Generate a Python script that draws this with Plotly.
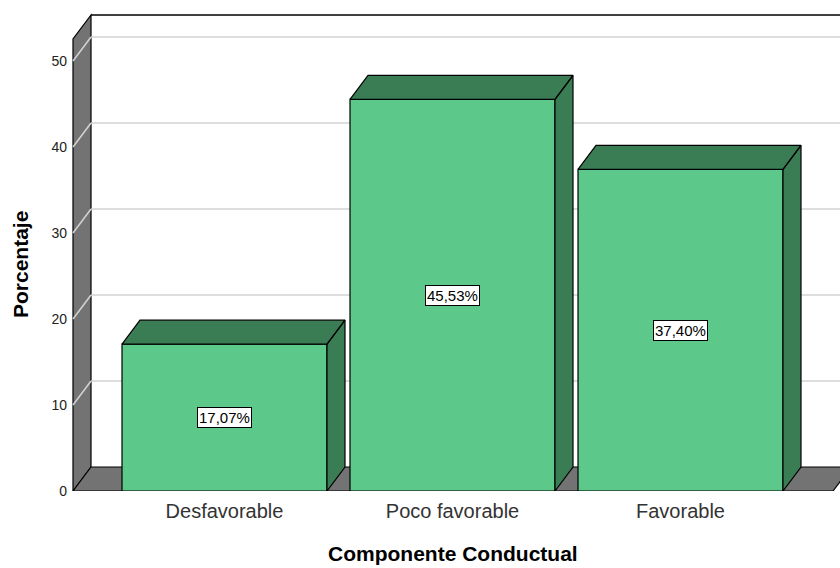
import plotly.graph_objects as go

# ---- data ----
categories = ["Desfavorable", "Poco favorable", "Favorable"]
porcentajes = [17.07, 45.53, 37.40]
y_ticks = [0, 10, 20, 30, 40, 50]
x_title = "Componente Conductual"
y_title = "Porcentaje"

# ---- styling / geometry ----
FONT = "Liberation Sans, Arial, sans-serif"
FRONT = "#5cc98b"
DARK = "#3a7d55"
WALL = "#737373"
GRID = "#d2d2d2"

W, H = 840, 568
ML, MR, MT, MB = 68, 0, 10, 77
PX = 228.0          # px per category unit
PY = 8.6            # px per percent unit
plot_w = W - ML - MR
plot_h = H - MT - MB

x_lo = -(224.5 - ML) / PX
x_hi = x_lo + plot_w / PX
y_hi = plot_h / PY

DX = 18 / PX
DY = 24 / PY
BAR_W = 205 / PX
x_wall = x_lo + 5 / PX
x_floor_end = x_wall + 760 / PX
y_wall_top = (plot_h - 5) / PY

shapes = []
# left wall
shapes.append(dict(type="path", xref="x", yref="y", layer="below",
                   path=f"M {x_wall},0 L {x_wall+DX},{DY} L {x_wall+DX},{y_wall_top} L {x_wall},{y_wall_top-DY} Z",
                   fillcolor=WALL, line=dict(color="black", width=1.2)))
# floor
shapes.append(dict(type="path", xref="x", yref="y", layer="below",
                   path=f"M {x_wall},0 L {x_wall+DX},{DY} L {x_floor_end+DX},{DY} L {x_floor_end},0 Z",
                   fillcolor=WALL, line=dict(color="black", width=1.2)))
# gridlines
for t in y_ticks[1:]:
    shapes.append(dict(type="line", xref="x", yref="y", layer="below",
                       x0=x_wall, y0=t, x1=x_wall + DX, y1=t + DY,
                       line=dict(color=GRID, width=1.5)))
    shapes.append(dict(type="line", xref="x", yref="y", layer="below",
                       x0=x_wall + DX, y0=t + DY, x1=x_hi, y1=t + DY,
                       line=dict(color=GRID, width=1.5)))
# back wall top edge
shapes.append(dict(type="line", xref="x", yref="y", layer="below",
                   x0=x_wall + DX, y0=y_wall_top, x1=x_hi, y1=y_wall_top,
                   line=dict(color="black", width=1.5)))

fig = go.Figure()

xs = list(range(len(categories)))
fig.add_trace(go.Bar(x=xs, y=porcentajes, width=BAR_W,
                     marker=dict(color=FRONT, line=dict(color="black", width=1.2)),
                     hoverinfo="skip"))

# 3D top and side faces
px_, py_ = [], []
for i, v in enumerate(porcentajes):
    xl, xr = i - BAR_W / 2, i + BAR_W / 2
    px_ += [xl, xl + DX, xr + DX, xr, xl, None]
    py_ += [v, v + DY, v + DY, v, v, None]
    px_ += [xr, xr + DX, xr + DX, xr, xr, None]
    py_ += [0, DY, v + DY, v, 0, None]
fig.add_trace(go.Scatter(x=px_, y=py_, mode="lines", fill="toself",
                         fillcolor=DARK, line=dict(color="black", width=1.2),
                         hoverinfo="skip"))

annotations = []
for i, v in enumerate(porcentajes):
    annotations.append(dict(x=i, y=v / 2, xref="x", yref="y", showarrow=False,
                            text=f"{v:.2f}%".replace(".", ","),
                            font=dict(family=FONT, size=15, color="black"),
                            bgcolor="white", bordercolor="black", borderwidth=1, borderpad=1))
annotations.append(dict(x=1, y=0, xref="x", yref="paper", yshift=-62, showarrow=False,
                        text=f"<b>{x_title}</b>", font=dict(family=FONT, size=21, color="black"),
                        yanchor="middle"))
annotations.append(dict(x=0, y=(plot_h - (265 - MT)) / plot_h, xref="paper", yref="paper",
                        xshift=-(ML - 20), showarrow=False, textangle=-90,
                        text=f"<b>{y_title}</b>", font=dict(family=FONT, size=21, color="black"),
                        xanchor="center", yanchor="middle"))

fig.update_layout(
    width=W, height=H,
    margin=dict(l=ML, r=MR, t=MT, b=MB),
    paper_bgcolor="white", plot_bgcolor="white",
    showlegend=False,
    shapes=shapes, annotations=annotations,
    xaxis=dict(range=[x_lo, x_hi], tickvals=xs, ticktext=categories,
               showgrid=False, zeroline=False, showline=False, ticks="",
               ticklabelstandoff=6,
               tickfont=dict(family=FONT, size=20, color="#333333")),
    yaxis=dict(range=[0, y_hi], tickvals=y_ticks, showgrid=False, zeroline=False,
               showline=False, ticks="", ticklabelstandoff=0,
               tickfont=dict(family=FONT, size=14, color="#222222")),
)

fig.write_html("out.html", config={"displayModeBar": False},
               post_script="document.body.style.margin='0px';")
